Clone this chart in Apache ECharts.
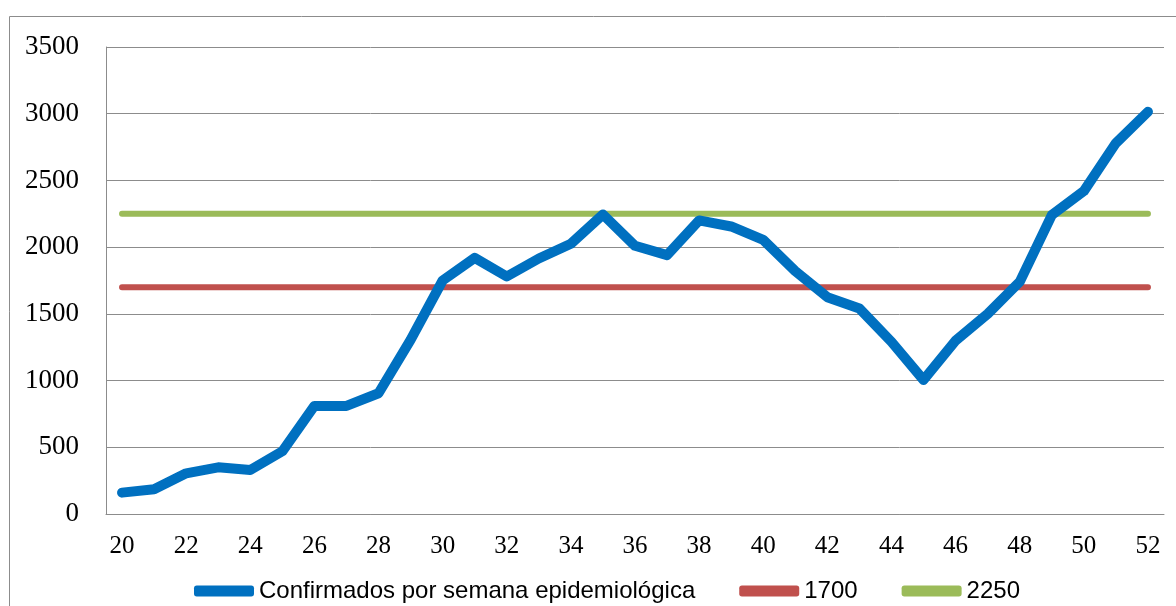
<!DOCTYPE html>
<html>
<head>
<meta charset="utf-8">
<script src="https://cdn.jsdelivr.net/npm/echarts@6/dist/echarts.min.js"></script>
<style>html,body{margin:0;padding:0;background:#fff;}#c{width:1176px;height:606px;}</style>
</head>
<body>
<div id="c"></div>
<script>
const weeks = ['20','21','22','23','24','25','26','27','28','29','30','31','32','33','34','35','36','37','38','39','40','41','42','43','44','45','46','47','48','49','50','51','52'];
const confirmados = [160,185,305,350,330,470,810,810,905,1305,1750,1920,1780,1915,2025,2245,2010,1940,2200,2155,2055,1820,1625,1540,1290,1005,1300,1500,1740,2240,2420,2780,3015];
const limite1700 = [1700,1700,1700,1700,1700,1700,1700,1700,1700,1700,1700,1700,1700,1700,1700,1700,1700,1700,1700,1700,1700,1700,1700,1700,1700,1700,1700,1700,1700,1700,1700,1700,1700];
const limite2250 = [2250,2250,2250,2250,2250,2250,2250,2250,2250,2250,2250,2250,2250,2250,2250,2250,2250,2250,2250,2250,2250,2250,2250,2250,2250,2250,2250,2250,2250,2250,2250,2250,2250];
const seriesNames = ['Confirmados por semana epidemiológica','1700','2250'];

const chart = echarts.init(document.getElementById('c'), null, {renderer:'canvas'});
chart.setOption({
  animation: false,
  backgroundColor: '#fff',
  graphic: [{
    type: 'rect', left: 7, top: 14, silent: true,
    shape: {x: 0.5, y: 0.5, width: 1200, height: 700},
    style: {fill: 'none', stroke: '#8c8c8c', lineWidth: 1}
  }],
  grid: {left: 106, right: 12, top: 47, bottom: 92, containLabel: false},
  legend: {
    left: 189, top: 574,
    itemWidth: 60, itemHeight: 11, itemGap: 44,
    icon: 'roundRect',
    textStyle: {fontFamily: 'Liberation Sans', fontSize: 24, color: '#000'},
    data: seriesNames
  },
  xAxis: {
    type: 'category', data: weeks, boundaryGap: true,
    axisLine: {show: true, lineStyle: {color: '#8c8c8c', width: 1}},
    axisTick: {show: false},
    axisLabel: {interval: 1, color: '#000', fontFamily: 'Liberation Serif', fontSize: 25, margin: 20}
  },
  yAxis: {
    type: 'value', min: 0, max: 3500, interval: 500,
    axisLine: {show: true, lineStyle: {color: '#8c8c8c', width: 1}},
    axisTick: {show: false},
    splitLine: {show: true, lineStyle: {color: '#8c8c8c', width: 1}},
    axisLabel: {color: '#000', fontFamily: 'Liberation Serif', fontSize: 27, margin: 27,
                formatter: function (v) { return String(v); }}
  },
  series: [
    {name: seriesNames[0], type: 'line', data: confirmados, symbol: 'none', z: 3,
     lineStyle: {color: '#0070C0', width: 10, join: 'round', cap: 'round'}, itemStyle: {color: '#0070C0'}},
    {name: seriesNames[1], type: 'line', data: limite1700, symbol: 'none', z: 2,
     lineStyle: {color: '#C0504D', width: 6, cap: 'round'}, itemStyle: {color: '#C0504D'}},
    {name: seriesNames[2], type: 'line', data: limite2250, symbol: 'none', z: 2,
     lineStyle: {color: '#9BBB59', width: 6, cap: 'round'}, itemStyle: {color: '#9BBB59'}}
  ]
});
</script>
</body>
</html>
